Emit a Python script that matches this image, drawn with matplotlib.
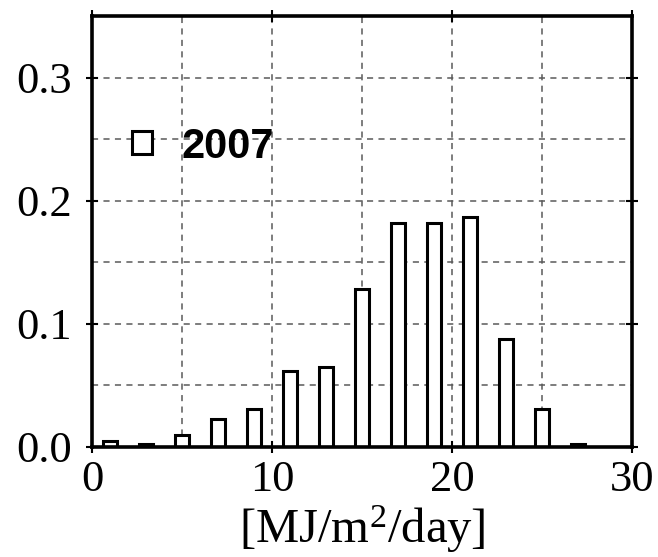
import matplotlib
matplotlib.use("Agg")
import matplotlib.pyplot as plt
from matplotlib.ticker import MultipleLocator, FixedLocator

# Data
bin_centers = [1, 3, 5, 7, 9, 11, 13, 15, 17, 19, 21, 23, 25, 27]
freq_2007 = [0.005, 0.0025, 0.010, 0.023, 0.031, 0.062, 0.065, 0.128,
             0.182, 0.182, 0.187, 0.088, 0.031, 0.0025]
series_label = "2007"
x_label = "[MJ/m$^2$/day]"
x_ticks = [0, 10, 20, 30]
y_ticks = [0.0, 0.1, 0.2, 0.3]
y_tick_labels = ["0.0", "0.1", "0.2", "0.3"]

plt.rcParams['mathtext.fontset'] = 'custom'
plt.rcParams['mathtext.rm'] = 'Liberation Serif'
plt.rcParams['mathtext.it'] = 'Liberation Serif:italic'

fig = plt.figure(figsize=(6.58, 5.57), dpi=100)
ax = fig.add_axes([92/658, 110/557, 540/658, 431/557])

bars = ax.bar(bin_centers, freq_2007, width=0.8, facecolor='white',
              edgecolor='black', linewidth=2.2, zorder=3)

ax.set_xlim(0, 30)
ax.set_ylim(0, 0.35)

ax.xaxis.set_major_locator(FixedLocator(x_ticks))
ax.yaxis.set_major_locator(FixedLocator(y_ticks))
ax.set_yticklabels(y_tick_labels)
ax.xaxis.set_minor_locator(MultipleLocator(5))
ax.yaxis.set_minor_locator(MultipleLocator(0.05))

for lab in ax.get_xticklabels() + ax.get_yticklabels():
    lab.set_fontfamily('Liberation Serif')
    lab.set_fontsize(32)

ax.tick_params(which='major', direction='inout', length=9, width=1.5,
               top=True, right=True)
ax.tick_params(which='minor', length=0)
ax.tick_params(axis='x', pad=5)
ax.tick_params(axis='y', pad=10)

ax.grid(True, which='both', color='#5a5a5a', linestyle=(0, (4, 3.5)),
        linewidth=1.1, zorder=0)
ax.set_axisbelow(True)

for s in ax.spines.values():
    s.set_linewidth(2.6)
    s.set_zorder(5)

ax.set_xlabel(x_label, fontfamily='Liberation Serif', fontsize=35, labelpad=2)

leg = ax.legend([bars], [series_label], loc='center left',
                bbox_to_anchor=(0.074, 0.697), frameon=False,
                borderpad=0, borderaxespad=0, handlelength=0.48,
                handleheight=0.48, handletextpad=0.7,
                prop={'family': 'Liberation Sans', 'weight': 'bold', 'size': 30})

fig.savefig("out.png", dpi=100)
